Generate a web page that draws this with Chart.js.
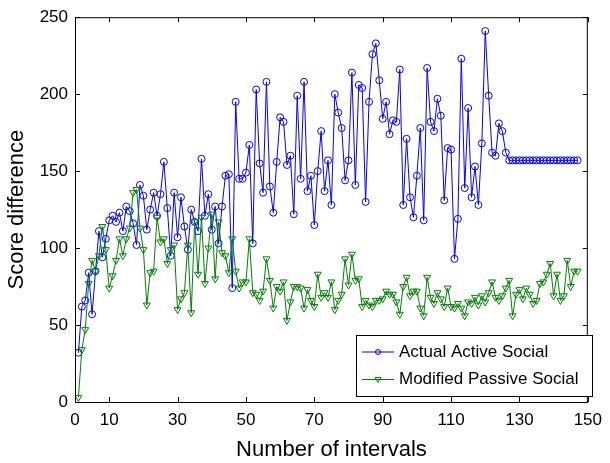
<!DOCTYPE html>
<html>
<head>
<meta charset="utf-8">
<script src="https://cdn.jsdelivr.net/npm/chart.js"></script>
<style>
  html, body { margin: 0; padding: 0; background: #fff; }
  #wrap { width: 610px; height: 463px; position: relative; }
</style>
</head>
<body>
<div id="wrap"><canvas id="scoreChart"></canvas></div>
<script>
// Valores (intervalos 1..147)
const activeSocial = [
  32, 62, 66, 84, 57, 85, 111, 94, 106, 118,
  121, 117, 123, 111, 127, 124, 116, 102, 141, 134,
  112, 125, 136, 121, 135, 156, 126, 95, 136, 107,
  133, 114, 99, 125, 117, 111, 158, 121, 135, 112,
  127, 103, 127, 147, 148, 74, 195, 145, 145, 149,
  167, 103, 203, 155, 136, 208, 140, 123, 156, 185,
  182, 154, 160, 122, 199, 145, 208, 137, 147, 115,
  150, 176, 137, 157, 128, 200, 188, 178, 144, 157,
  214, 141, 206, 204, 130, 195, 226, 233, 209, 184,
  195, 174, 183, 182, 216, 128, 171, 133, 120, 147,
  178, 118, 217, 182, 176, 197, 186, 131, 165, 164,
  93, 119, 223, 139, 191, 133, 153, 128, 168, 241,
  199, 162, 160, 181, 176, 162, 157, 157, 157, 157,
  157, 157, 157, 157, 157, 157, 157, 157, 157, 157,
  157, 157, 157, 157, 157, 157, 157
];

const passiveSocial = [
  3, 34, 47, 77, 92, 85, 95, 114, 99, 74,
  82, 92, 106, 95, 106, 113, 136, 138, 113, 99,
  63, 84, 85, 120, 104, 106, 90, 99, 102, 60,
  67, 71, 102, 58, 117, 83, 120, 77, 100, 122,
  80, 117, 97, 95, 84, 106, 85, 74, 78, 78,
  106, 71, 70, 66, 72, 93, 79, 61, 75, 72,
  78, 53, 65, 75, 75, 74, 61, 73, 66, 62,
  83, 68, 71, 68, 78, 60, 66, 70, 93, 76,
  96, 79, 80, 62, 66, 63, 62, 66, 66, 67,
  72, 70, 70, 65, 57, 75, 81, 69, 72, 72,
  61, 56, 81, 68, 64, 71, 67, 62, 74, 62,
  61, 64, 61, 56, 65, 64, 68, 63, 69, 65,
  71, 78, 68, 66, 69, 74, 79, 56, 70, 73,
  67, 74, 70, 64, 66, 77, 78, 83, 90, 69,
  83, 66, 69, 92, 75, 85, 85
];

const xTicks = [0, 10, 30, 50, 70, 90, 110, 130, 150];
const yTicks = [0, 50, 100, 150, 200, 250];
const seriesNames = ['Actual Active Social', 'Modified Passive Social'];

const FONT = '"Liberation Sans", Arial, Helvetica, sans-serif';
const BLUE = '#0000ff';
const GREEN = '#008000';

function toPoints(values) {
  return values.map((v, i) => ({ x: i + 1, y: v }));
}

// Caixa do gráfico, ticks para dentro e legenda no canto
const matlabFrame = {
  id: 'matlabFrame',
  afterDraw(chart) {
    const ctx = chart.ctx;
    const area = chart.chartArea;
    const xs = chart.scales.x;
    const ys = chart.scales.y;
    const tl = 5;

    ctx.save();
    ctx.strokeStyle = '#000';
    ctx.lineWidth = 1;
    ctx.strokeRect(area.left + 0.5, area.top + 0.5, area.right - area.left - 1, area.bottom - area.top);

    ctx.beginPath();
    xTicks.forEach(v => {
      const px = Math.round(xs.getPixelForValue(v)) + 0.5;
      ctx.moveTo(px, area.bottom);
      ctx.lineTo(px, area.bottom - tl);
      ctx.moveTo(px, area.top);
      ctx.lineTo(px, area.top + tl);
    });
    yTicks.forEach(v => {
      const py = Math.round(ys.getPixelForValue(v)) + 0.5;
      ctx.moveTo(area.left, py);
      ctx.lineTo(area.left + tl, py);
      ctx.moveTo(area.right, py);
      ctx.lineTo(area.right - tl, py);
    });
    ctx.stroke();

    // legenda
    const lx = 356, ly = 335, lw = 236, lh = 61;
    ctx.fillStyle = '#fff';
    ctx.fillRect(lx, ly, lw, lh);
    ctx.strokeRect(lx + 0.5, ly + 0.5, lw, lh);

    const rows = [352, 379.5];
    chart.data.datasets.forEach((ds, i) => {
      const y = rows[i];
      ctx.strokeStyle = ds.borderColor;
      ctx.lineWidth = 1;
      ctx.beginPath();
      ctx.moveTo(362, y);
      ctx.lineTo(394, y);
      ctx.stroke();
      ctx.beginPath();
      if (ds.pointStyle === 'circle') {
        ctx.arc(378, y, 2.5, 0, Math.PI * 2);
      } else {
        ctx.moveTo(375, y - 2);
        ctx.lineTo(381, y - 2);
        ctx.lineTo(378, y + 3);
        ctx.closePath();
      }
      ctx.stroke();

      ctx.fillStyle = '#000';
      ctx.font = '17px ' + FONT;
      ctx.textBaseline = 'middle';
      ctx.textAlign = 'left';
      ctx.fillText(ds.label, 399, y);
    });
    ctx.restore();
  }
};

const ctx = document.getElementById('scoreChart').getContext('2d');
const scoreChart = new Chart(ctx, {
  type: 'line',
  data: {
    datasets: [
      {
        label: seriesNames[0],
        data: toPoints(activeSocial),
        borderColor: BLUE,
        backgroundColor: 'rgba(0,0,0,0)',
        borderWidth: 1,
        pointStyle: 'circle',
        pointRadius: 3.5,
        pointBorderWidth: 1,
        pointBorderColor: BLUE,
        pointBackgroundColor: 'rgba(0,0,0,0)',
        tension: 0,
        order: 1
      },
      {
        label: seriesNames[1],
        data: toPoints(passiveSocial),
        borderColor: GREEN,
        backgroundColor: 'rgba(0,0,0,0)',
        borderWidth: 1,
        pointStyle: 'triangle',
        pointRotation: 180,
        pointRadius: 4,
        pointBorderWidth: 1,
        pointBorderColor: GREEN,
        pointBackgroundColor: 'rgba(0,0,0,0)',
        tension: 0,
        order: 0
      }
    ]
  },
  options: {
    responsive: true,
    maintainAspectRatio: false,
    animation: false,
    layout: { padding: { top: 11, right: 16, left: 0, bottom: 0 } },
    plugins: {
      legend: { display: false },
      tooltip: { enabled: false }
    },
    scales: {
      x: {
        type: 'linear',
        min: 0,
        max: 150,
        afterBuildTicks: scale => { scale.ticks = xTicks.map(v => ({ value: v })); },
        afterFit: scale => { scale.height = 61; },
        grid: { display: false, drawTicks: false },
        border: { display: false },
        ticks: {
          color: '#000',
          padding: 8,
          maxRotation: 0,
          autoSkip: false,
          font: { family: FONT, size: 17 }
        },
        title: {
          display: true,
          text: 'Number of intervals',
          color: '#000',
          padding: { top: 0, bottom: 0 },
          font: { family: FONT, size: 22 }
        }
      },
      y: {
        min: 0,
        max: 250,
        afterBuildTicks: scale => { scale.ticks = yTicks.map(v => ({ value: v })); },
        afterFit: scale => { scale.width = 75; },
        grid: { display: false, drawTicks: false },
        border: { display: false },
        ticks: {
          color: '#000',
          padding: 7,
          font: { family: FONT, size: 17 }
        },
        title: {
          display: true,
          text: 'Score difference',
          color: '#000',
          padding: { top: 4, bottom: 0 },
          font: { family: FONT, size: 22 }
        }
      }
    }
  },
  plugins: [matlabFrame]
});
</script>
</body>
</html>
